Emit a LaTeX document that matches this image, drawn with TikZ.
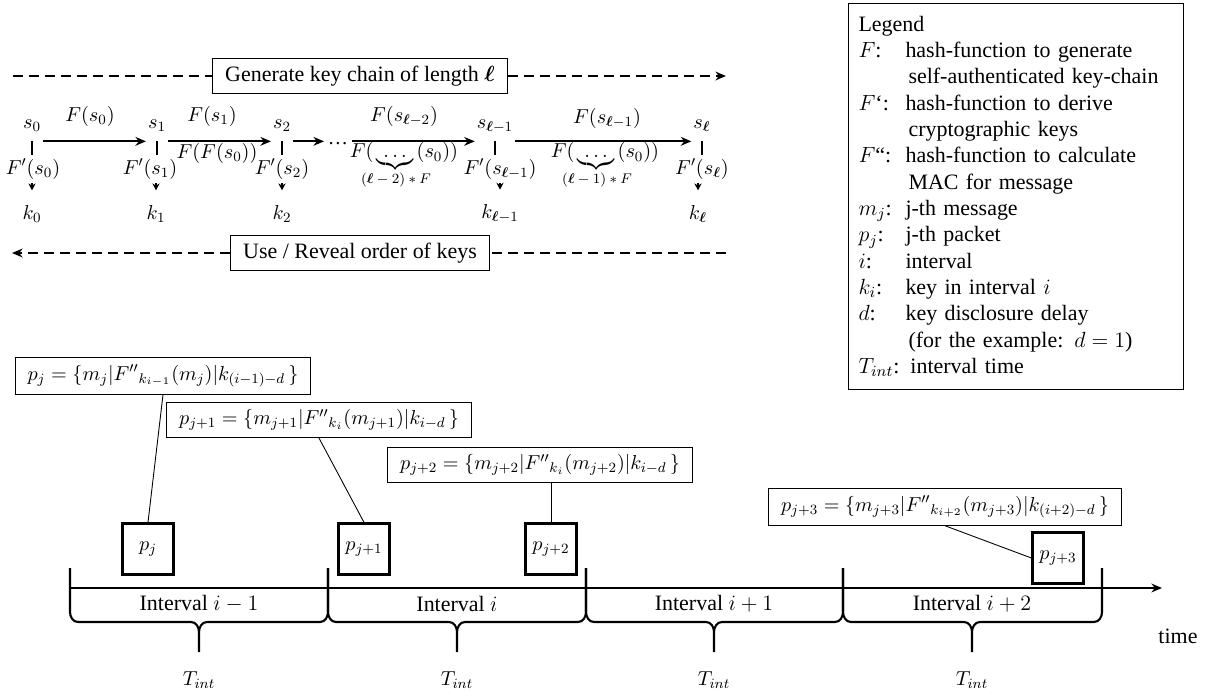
\RequirePackage{fix-cm}
\documentclass[tikz,border=0pt]{standalone}
\usepackage{amsmath, amssymb}
\usepackage{fontspec}
\setmainfont{Liberation Serif}
\usepackage{tikz}
\usetikzlibrary{arrows.meta,positioning}

\newcommand{\lb}{\boldsymbol{\ell}}

\tikzset{
  mathtext/.style={font=\fontsize{11.5}{14}\selectfont},
  smalltext/.style={font=\fontsize{8}{9}\selectfont, inner sep=1pt},
  box/.style={draw, line width=0.6pt, inner xsep=7pt, inner ysep=4pt},
  pbox/.style={draw, mathtext, line width=1.3pt, minimum size=1.02cm, inner sep=0pt},
  chainnode/.style={mathtext, inner sep=1pt, minimum height=0.6cm},
  fpnode/.style={mathtext, inner sep=2pt},
  dashline/.style={line width=1pt, dash pattern=on 0.2cm off 0.12cm},
  chainarrow/.style={->, line width=1pt},
  keyarrow/.style={-{Stealth[length=4pt,width=4pt]}, line width=0.8pt, shorten >=5pt},
  axis/.style={->, line width=1.2pt},
  brace/.style={line width=1.2pt},
  pin line/.style={line width=0.5pt}
}

\begin{document}
\begin{tikzpicture}[x=0.02cm, y=-0.02cm, >={Stealth[length=6pt,width=5pt]},
  font=\fontsize{12.5}{15}\selectfont]
\useasboundingbox (0,0) rectangle (1205,696);

% generation of the chain
\node[box] (gen) at (360,76) {Generate key chain of length $\lb$};
\coordinate (genl) at (13,76);
\coordinate (genr) at (726,76);
\draw[dashline] (genl) -- (gen.west);
\draw[dashline,->] (gen.east) -- (genr);

\node[chainnode] (s0) at (32,126)  {$s_0$};
\node[chainnode] (s1) at (157,126) {$s_1$};
\node[chainnode] (s2) at (282,126) {$s_2$};
\node[mathtext, inner sep=2pt] (dots) at (338,144) {…};
\node[chainnode] (s3) at (495,126) {$s_{\lb-1}$};
\node[chainnode] (s4) at (702,126) {$s_{\lb}$};

\draw[chainarrow] (s0.south east) -- (s1.south west);
\draw[chainarrow] (s1.south east) -- (s2.south west);
\draw[chainarrow] (s2.south east) -- (dots.west |- s2.south);
\draw[chainarrow] (dots.east |- s3.south) -- (s3.south west);
\draw[chainarrow] (s3.south east) -- (s4.south west);

\node[mathtext] (a0) at (90,116)  {$F(s_0)$};
\node[mathtext] (a1) at (212,116) {$F(s_1)$};
\node[mathtext] (b1) at (217,153) {$F(F(s_0))$};
\node[mathtext] (a2) at (404,116) {$F(s_{\lb-2})$};
\node[mathtext, anchor=base] (b2) at (404,158) {$F(\,\underbrace{\ldots}\,(s_0))$};
\node[smalltext] (u2) at (396,180) {$(\lb-2)*F$};
\node[mathtext] (a3) at (607,118) {$F(s_{\lb-1})$};
\node[mathtext, anchor=base] (b3) at (605,158) {$F(\,\underbrace{\ldots}\,(s_0))$};
\node[smalltext] (u3) at (597,180) {$(\lb-1)*F$};

% derived keys
\node[fpnode] (fp0) at (33,169)  {$F'(s_0)$};
\node[fpnode] (fp1) at (150,169) {$F'(s_1)$};
\node[fpnode] (fp2) at (282,169) {$F'(s_2)$};
\node[fpnode] (fp3) at (500,169) {$F'(s_{\lb-1})$};
\node[fpnode] (fp4) at (702,169) {$F'(s_{\lb})$};

\node[mathtext] (k0) at (32,214)  {$k_0$};
\node[mathtext] (k1) at (156,214) {$k_1$};
\node[mathtext] (k2) at (282,214) {$k_2$};
\node[mathtext] (k3) at (500,214) {$k_{\lb-1}$};
\node[mathtext] (k4) at (698,214) {$k_{\lb}$};

\draw[line width=1pt] (s0.south) -- (s0.south |- fp0.north);
\draw[line width=1pt] (s1.south) -- (s1.south |- fp1.north);
\draw[line width=1pt] (s2.south) -- (s2.south |- fp2.north);
\draw[line width=1pt] (s3.south) -- (s3.south |- fp3.north);
\draw[line width=1pt] (s4.south) -- (s4.south |- fp4.north);
\draw[keyarrow] (fp0.south -| k0) -- (k0.north);
\draw[keyarrow] (fp1.south -| k1) -- (k1.north);
\draw[keyarrow] (fp2.south) -- (k2.north);
\draw[keyarrow] (fp3.south) -- (k3.north);
\draw[keyarrow] (fp4.south -| k4) -- (k4.north);

% reveal order
\node[box] (use) at (360,253) {Use / Reveal order of keys};
\coordinate (usel) at (12,253);
\coordinate (user) at (726,253);
\draw[dashline,->] (use.west) -- (usel);
\draw[dashline] (user) -- (use.east);

% legend
\node[draw, line width=0.6pt, anchor=north west, text width=6.3cm, inner xsep=0.2cm,
  inner ysep=7pt, align=left] (legend) at (848,3) {Legend\\
  \makebox[0.94cm][l]{$F$:}hash-function to generate\\
  \hspace*{1cm}self-authenticated key-chain\\
  \makebox[0.94cm][l]{$F$‘:}hash-function to derive\\
  \hspace*{1cm}cryptographic keys\\
  \makebox[0.94cm][l]{$F$“:}hash-function to calculate\\
  \hspace*{1cm}MAC for message\\
  \makebox[0.94cm][l]{$m_j$:}j-th message\\
  \makebox[0.94cm][l]{$p_j$:}j-th packet\\
  \makebox[0.94cm][l]{$i$:}interval\\
  \makebox[0.94cm][l]{$k_i$:}key in interval $i$\\
  \makebox[0.94cm][l]{$d$:}key disclosure delay\\
  \hspace*{1cm}(for the example: $d=1$)\\
  $T_{int}$: interval time};

% packets on the time line
\node[box, mathtext] (lj)  at (163,376) {$p_j=\{m_j|{F''}_{k_{i-1}}(m_j)|k_{(i-1)-d}\,\}$};
\node[box, mathtext] (lj1) at (319,420) {$p_{j+1}=\{m_{j+1}|{F''}_{k_i}(m_{j+1})|k_{i-d}\,\}$};
\node[box, mathtext] (lj2) at (540,465) {$p_{j+2}=\{m_{j+2}|{F''}_{k_i}(m_{j+2})|k_{i-d}\,\}$};
\node[box, mathtext] (lj3) at (945,507) {$p_{j+3}=\{m_{j+3}|{F''}_{k_{i+2}}(m_{j+3})|k_{(i+2)-d}\,\}$};

\node[pbox] (pj)  at (148,549)  {$p_j$};
\node[pbox] (pj1) at (364,549)  {$p_{j+1}$};
\node[pbox] (pj2) at (551,549)  {$p_{j+2}$};
\node[pbox] (pj3) at (1058,558) {$p_{j+3}$};

\draw[pin line] (lj.south) -- (pj.north);
\draw[pin line] (lj1.south) -- (pj1.north);
\draw[pin line] (pj2.north |- lj2.south) -- (pj2.north);
\draw[pin line] (lj3.south) -- (pj3.west);

\coordinate (origin) at (70,588);
\coordinate (tend) at (1162,588);
\draw[axis] (origin) -- (tend);
\node (time) at (1178,636) {time};

\foreach \a/\m/\b/\lab in {70/199/328/i-1, 328/457/586/i, 586/714/843/i+1, 843/972/1102/i+2}{
  \draw[brace] (\a,568) -- (\a,612) to[out=-90,in=180] ({\a+8},622) -- ({\m-8},622)
    to[out=0,in=90] (\m,632) -- (\m,652)
    (\m,632) to[out=90,in=180] ({\m+8},622) -- ({\b-8},622)
    to[out=0,in=-90] (\b,612) -- (\b,568);
  \node (int\a) at (\m,604) {Interval $\lab$};
  \node[mathtext] (T\a) at (\m,680) {$T_{int}$};
}
\end{tikzpicture}
\end{document}
